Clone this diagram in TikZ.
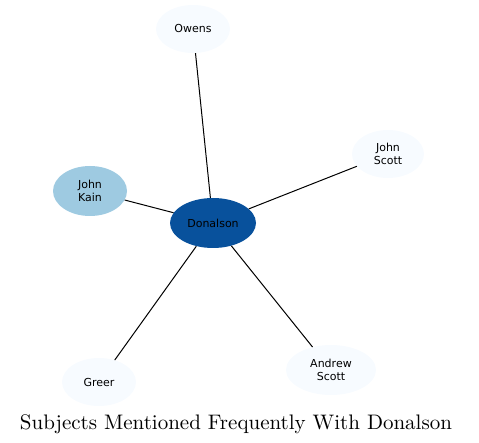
\documentclass[tikz,border=0pt]{standalone}
\usepackage{fontspec}
\newfontfamily\nodefont{DejaVu Sans}
\usetikzlibrary{shapes.geometric}
\definecolor{pale}{HTML}{F7FBFF}
\definecolor{midblue}{HTML}{9ECAE1}
\definecolor{darkblue}{HTML}{08519C}
\tikzset{
  person/.style={ellipse, fill=pale, draw=none, inner sep=0pt, align=center,
    font=\nodefont\fontsize{11}{12.5}\selectfont, text=black},
  link/.style={black, line width=1pt},
}
\begin{document}
\begin{tikzpicture}[x=1pt,y=-1pt]
\useasboundingbox (0,0) rectangle (479,443);
\node[person, minimum width=74pt, minimum height=48pt] (owens) at (193,29) {Owens};
\node[person, minimum width=72pt, minimum height=48pt] (jscott) at (388,154) {John\\Scott};
\node[person, fill=midblue, minimum width=74pt, minimum height=50pt] (kain) at (90,191) {John\\Kain};
\node[person, fill=darkblue, minimum width=86pt, minimum height=50pt] (don) at (213,223) {Donalson};
\node[person, minimum width=74pt, minimum height=48pt] (greer) at (99,382) {Greer};
\node[person, minimum width=90pt, minimum height=50pt] (ascott) at (331,370) {Andrew\\Scott};
\foreach \t in {owens,jscott,kain,greer,ascott}{
  \draw[link] (don) -- (\t);
}
\node[font=\fontsize{10}{12}\selectfont, inner sep=0pt, anchor=base] (title) at (236,429) {\scalebox{2.1}{Subjects Mentioned Frequently With Donalson}};
\end{tikzpicture}
\end{document}
